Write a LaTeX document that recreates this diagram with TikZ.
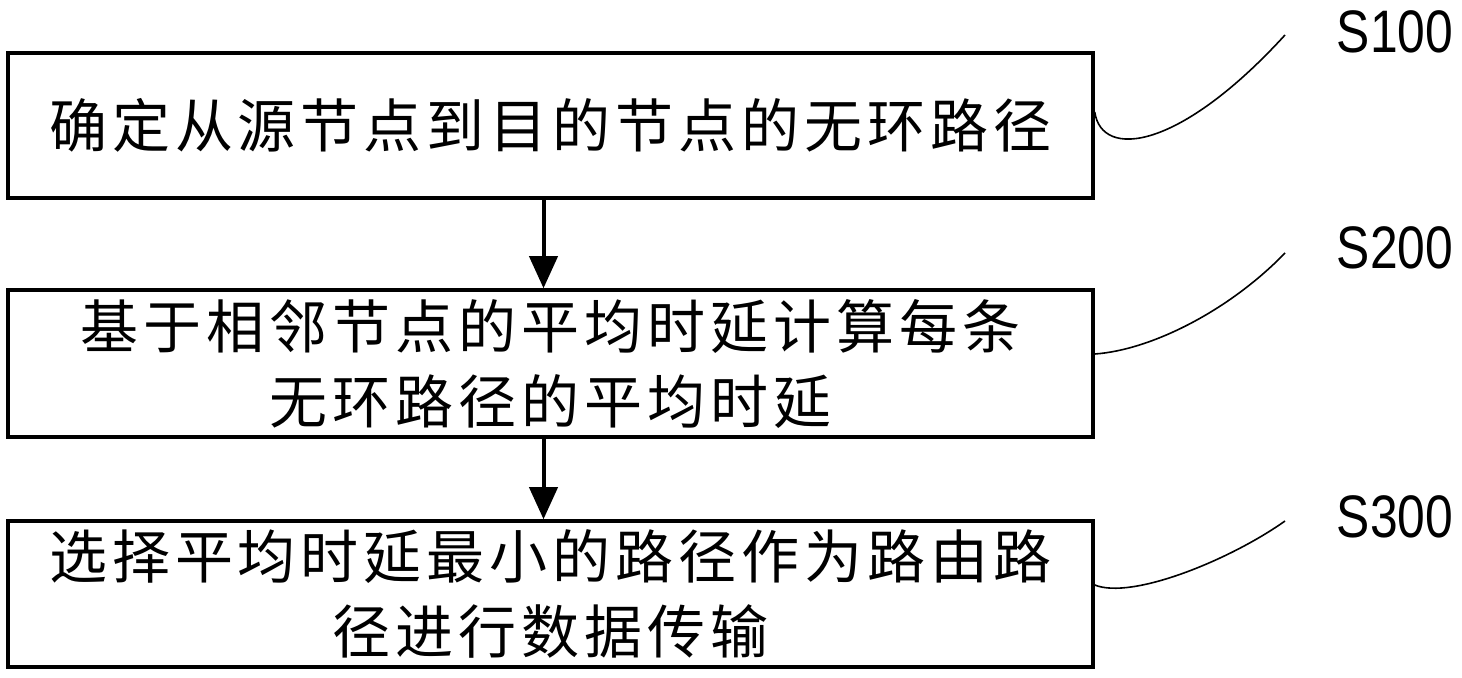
\documentclass[tikz,border=0pt]{standalone}
\usepackage{fontspec}
\usetikzlibrary{arrows.meta}
\newfontfamily\cjk[LetterSpace=8.6]{Noto Sans CJK SC}
\newfontfamily\labelfont[FakeStretch=0.83]{Liberation Sans}
\tikzset{
	stepbox/.style={draw, line width=1.75pt, minimum width=542.5pt, align=center,
		font={\cjk\fontsize{29pt}{37.5pt}\selectfont}},
	flow/.style={-{Triangle[width=14pt,length=16pt]}, line width=2pt},
	lead/.style={line width=0.8pt},
	steplabel/.style={font={\labelfont\fontsize{30pt}{30pt}\selectfont}}
}
\begin{document}
\begin{tikzpicture}[x=0.5pt,y=-0.5pt]

	\useasboundingbox (0,0) rectangle (1462,678);

	\node [stepbox, minimum height=72.5pt] (step1) at (550.5,125.5) {确定从源节点到目的节点的无环路径};
	\node [stepbox, minimum height=73.5pt] (step2) at (550.5,363.5) {基于相邻节点的平均时延计算每条\\无环路径的平均时延};
	\node [stepbox, minimum height=73pt] (step3) at (550.5,594) {选择平均时延最小的路径作为路由路\\径进行数据传输};

	\draw[flow] ([xshift=-3.5pt]step1.south) -- ([xshift=-3.5pt]step2.north);
	\draw[flow] ([xshift=-3.5pt]step2.south) -- ([xshift=-3.5pt]step3.north);

	\node [steplabel] (s100) at (1395,32) {S100};
	\node [steplabel] (s200) at (1395,248) {S200};
	\node [steplabel] (s300) at (1395,517) {S300};
	\coordinate (t1) at (1285,35);
	\coordinate (t2) at (1285,253);
	\coordinate (t3) at (1285,521);

	\draw[lead] ([yshift=6.75pt]step1.east) .. controls +(7,48) and +(-105,115) .. (t1);
	\draw[lead] ([yshift=4.75pt]step2.east) .. controls +(57,-4) and +(-55,57) .. (t2);
	\draw[lead] ([yshift=4.5pt]step3.east) .. controls +(37,15) and +(-55,39) .. (t3);

\end{tikzpicture}
\end{document}
